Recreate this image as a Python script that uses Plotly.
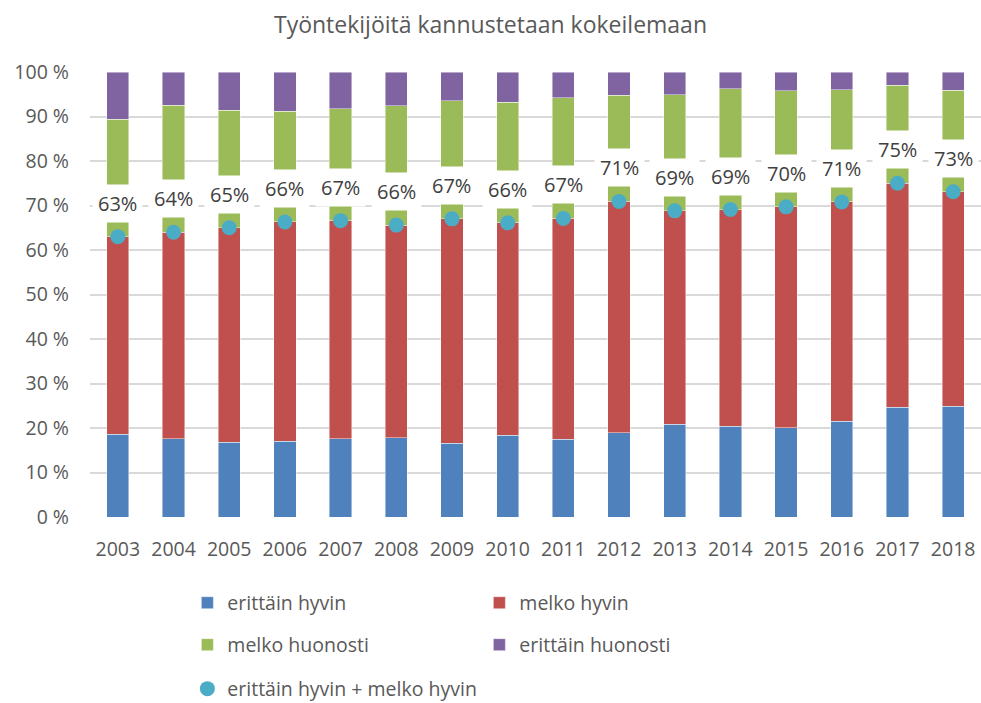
import plotly.graph_objects as go

years = ["2003", "2004", "2005", "2006", "2007", "2008", "2009", "2010",
         "2011", "2012", "2013", "2014", "2015", "2016", "2017", "2018"]
erittain_hyvin = [18.6, 17.6, 16.8, 17.0, 17.6, 17.8, 16.6, 18.4,
                  17.5, 18.9, 20.9, 20.4, 20.1, 21.5, 24.7, 24.9]
melko_hyvin = [44.4, 46.4, 48.2, 49.3, 49.0, 47.8, 50.4, 47.7,
               49.6, 52.0, 47.9, 48.7, 49.6, 49.3, 50.3, 48.2]
melko_huonosti = [26.4, 28.5, 26.4, 24.9, 25.1, 26.8, 26.5, 27.1,
                  27.1, 23.9, 26.1, 27.1, 26.1, 25.2, 22.0, 22.8]
erittain_huonosti = [10.6, 7.5, 8.6, 8.8, 8.3, 7.6, 6.5, 6.8,
                     5.8, 5.2, 5.1, 3.8, 4.2, 4.0, 3.0, 4.1]
yhteensa = [a + b for a, b in zip(erittain_hyvin, melko_hyvin)]
y_ticks = list(range(0, 101, 10))
y_ticktext = [f"{v} %" for v in y_ticks]

FONT = "Open Sans"
TXT = "#595959"
line = dict(width=0.8, color="rgba(255,255,255,0.55)")

fig = go.Figure()
fig.add_trace(go.Bar(x=years, y=erittain_hyvin, name="erittäin hyvin",
                     marker=dict(color="#4F81BD", line=line), legend="legend"))
fig.add_trace(go.Bar(x=years, y=melko_hyvin, name="melko hyvin",
                     marker=dict(color="#C0504D", line=line), legend="legend"))
fig.add_trace(go.Bar(x=years, y=melko_huonosti, name="melko huonosti",
                     marker=dict(color="#9BBB59", line=line), legend="legend2"))
fig.add_trace(go.Bar(x=years, y=erittain_huonosti, name="erittäin huonosti",
                     marker=dict(color="#8064A2", line=line), legend="legend2"))
fig.add_trace(go.Scatter(x=years, y=yhteensa, mode="markers",
                         name="erittäin hyvin + melko hyvin",
                         marker=dict(color="#4BACC6", size=15), legend="legend3"))

for i, tot in enumerate(yhteensa):
    fig.add_annotation(x=i, y=tot, text=f"{round(tot)}%", showarrow=False,
                       yanchor="bottom", yshift=14, bgcolor="white", borderpad=5,
                       font=dict(family=FONT, size=20, color="#404040"))

legend_common = dict(orientation="h", xref="container", yref="container",
                     xanchor="left", yanchor="middle", bgcolor="rgba(0,0,0,0)",
                     traceorder="normal",
                     font=dict(family=FONT, size=19.5, color=TXT),
                     entrywidth=247, entrywidthmode="pixels", itemclick=False)

fig.update_layout(
    width=981, height=703,
    margin=dict(l=90, r=0, t=72, b=186),
    paper_bgcolor="white", plot_bgcolor="white",
    barmode="stack", bargap=0.6,
    title=dict(text="Työntekijöitä kannustetaan kokeilemaan", x=0.5, xanchor="center",
               y=0.965, yanchor="middle",
               font=dict(family=FONT, size=23, color=TXT)),
    xaxis=dict(type="category", range=[-0.5, 15.5], showgrid=False, showline=False,
               ticks="", tickfont=dict(family=FONT, size=19.5, color=TXT),
               ticklabelstandoff=18),
    yaxis=dict(range=[0, 100], tickvals=y_ticks, ticktext=y_ticktext,
               showgrid=True, gridcolor="#D9D9D9", gridwidth=1.5, zeroline=False,
               showline=False, ticks="", ticklabelstandoff=20,
               tickfont=dict(family=FONT, size=19.5, color=TXT)),
    legend=dict(legend_common, x=0.191, y=1 - 603 / 703),
    legend2=dict(legend_common, x=0.191, y=1 - 645 / 703),
    legend3=dict(legend_common, x=0.191, y=1 - 689 / 703),
    showlegend=True,
)

fig.write_html("out.html", config={"displayModeBar": False},
               post_script="document.body.style.margin='0px';")
